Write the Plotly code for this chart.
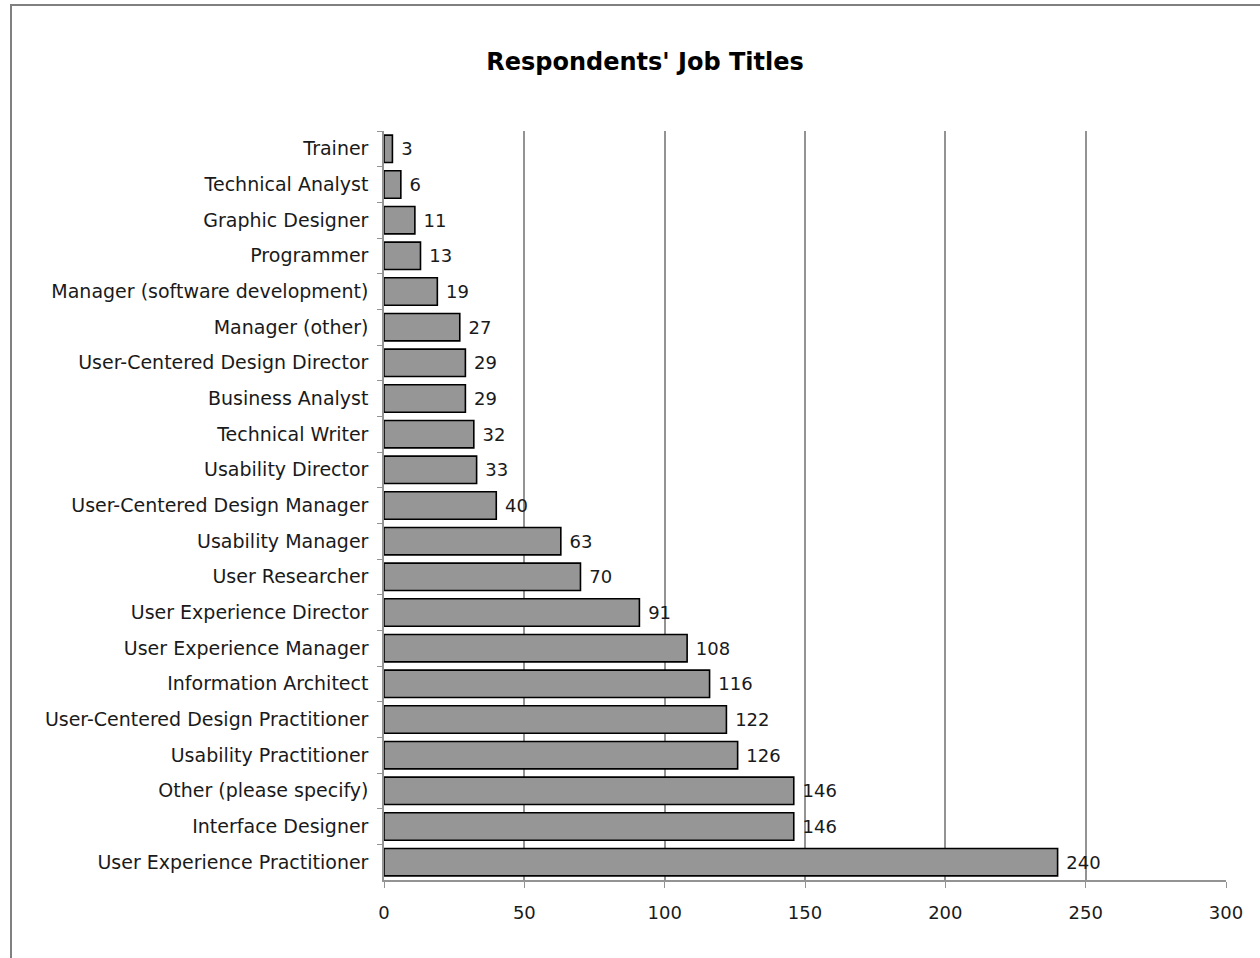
import plotly.graph_objects as go

categories = [
    "Trainer", "Technical Analyst", "Graphic Designer", "Programmer",
    "Manager (software development)", "Manager (other)",
    "User-Centered Design Director", "Business Analyst", "Technical Writer",
    "Usability Director", "User-Centered Design Manager", "Usability Manager",
    "User Researcher", "User Experience Director", "User Experience Manager",
    "Information Architect", "User-Centered Design Practitioner",
    "Usability Practitioner", "Other (please specify)", "Interface Designer",
    "User Experience Practitioner",
]
values = [3, 6, 11, 13, 19, 27, 29, 29, 32, 33, 40, 63, 70, 91, 108, 116, 122, 126, 146, 146, 240]
x_ticks = [0, 50, 100, 150, 200, 250, 300]

FONT = "'DejaVu Sans', sans-serif"

fig = go.Figure(go.Bar(
    x=values, y=categories, orientation="h",
    marker=dict(color="#969696", line=dict(color="#000000", width=1.6)),
    texttemplate="\u00a0%{x}", textposition="outside",
    textfont=dict(family=FONT, size=18, color="#1a1a1a"),
    cliponaxis=False, width=0.77,
))

fig.update_layout(
    width=1260, height=958,
    paper_bgcolor="white", plot_bgcolor="white",
    margin=dict(l=384, r=34, t=131, b=78),
    title=dict(text="<b>Respondents' Job Titles</b>", x=645 / 1260, xanchor="center",
               y=1 - 62 / 958, yanchor="middle",
               font=dict(family=FONT, size=24, color="#000000")),
    showlegend=False,
    shapes=[dict(type="rect", xref="paper", yref="paper",
                 x0=(11 - 384) / 842, x1=1.2, y0=-0.3, y1=(880 - 5) / 749,
                 line=dict(color="#808080", width=2), layer="below")],
)
fig.update_xaxes(
    range=[0, 300], tickvals=x_ticks, showgrid=True, gridcolor="#939393", gridwidth=1.5,
    showline=True, linecolor="#939393", linewidth=1.5, ticks="outside", ticklen=6,
    tickcolor="#939393", zeroline=False, ticklabelstandoff=10,
    tickfont=dict(family=FONT, size=18, color="#1a1a1a"),
)
fig.update_yaxes(
    autorange="reversed", showline=True, linecolor="#939393", linewidth=1.5,
    ticks="outside", tickson="boundaries", ticklen=5, tickcolor="#939393",
    showgrid=False, ticklabelstandoff=10,
    tickfont=dict(family=FONT, size=19, color="#1a1a1a"),
)

fig.write_html("out.html", config={"displayModeBar": False},
               post_script="document.body.style.margin='0';")
